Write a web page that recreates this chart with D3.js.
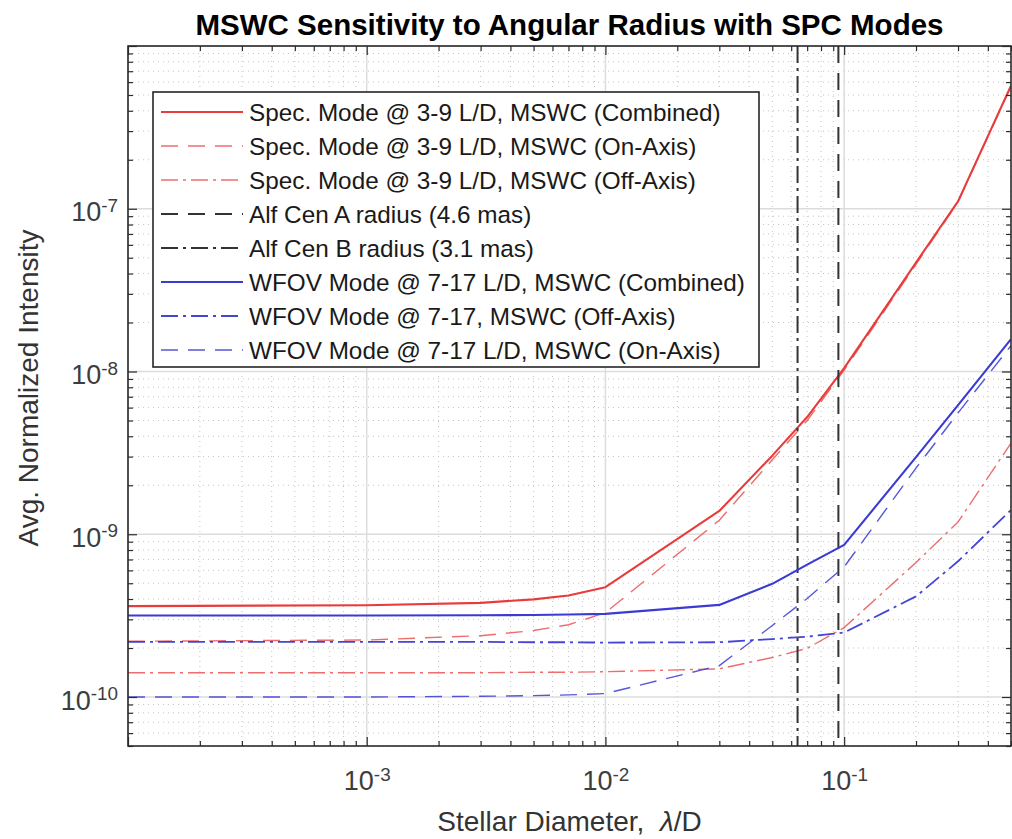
<!DOCTYPE html>
<html>
<head>
<meta charset="utf-8">
<script src="https://cdn.jsdelivr.net/npm/d3@7"></script>
<style>
  body { margin: 0; background: #fff; }
  svg { display: block; font-family: "Liberation Sans", Arial, Helvetica, sans-serif; }
  text { white-space: pre; }
</style>
</head>
<body>
<svg id="chart" width="1012" height="839"></svg>
<script>
// Stellar diameter samples (lambda/D)
const diameters = [1e-4, 1e-3, 3e-3, 5e-3, 7e-3, 1e-2, 3e-2, 5e-2, 7e-2, 1e-1, 2e-1, 3e-1, 5e-1];

// Spectroscopy mode, 3-9 L/D
const specCombined = [3.62e-10, 3.66e-10, 3.79e-10, 3.98e-10, 4.2e-10, 4.73e-10, 1.39e-9, 3.04e-9, 5.25e-9, 1.05e-8, 4.67e-8, 1.11e-7, 5.7e-7];
const specOnAxis   = [2.2e-10, 2.24e-10, 2.38e-10, 2.56e-10, 2.78e-10, 3.3e-10, 1.22e-9, 2.87e-9, 5.0e-9, 1.02e-8, 4.55e-8, 1.1e-7, 5.66e-7];
const specOffAxis  = [1.41e-10, 1.41e-10, 1.41e-10, 1.42e-10, 1.42e-10, 1.43e-10, 1.49e-10, 1.75e-10, 1.99e-10, 2.67e-10, 6.7e-10, 1.19e-9, 3.63e-9];

// Wide field-of-view mode, 7-17 L/D
const wfovCombined = [3.17e-10, 3.17e-10, 3.18e-10, 3.19e-10, 3.21e-10, 3.24e-10, 3.68e-10, 4.96e-10, 6.5e-10, 8.6e-10, 2.98e-9, 6.22e-9, 1.58e-8];
const wfovOffAxis  = [2.18e-10, 2.18e-10, 2.18e-10, 2.17e-10, 2.17e-10, 2.16e-10, 2.17e-10, 2.27e-10, 2.35e-10, 2.49e-10, 4.15e-10, 6.82e-10, 1.41e-9];
const wfovOnAxis   = [1.0e-10, 1.0e-10, 1.01e-10, 1.02e-10, 1.03e-10, 1.05e-10, 1.56e-10, 2.75e-10, 4.03e-10, 6.3e-10, 2.55e-9, 5.57e-9, 1.44e-8];

// Alpha Centauri stellar diameters in lambda/D
const alfCenA = 0.0946;
const alfCenB = 0.0638;

// Labelled ticks
const xTickLabels = [1e-3, 1e-2, 1e-1];
const yTickLabels = [1e-10, 1e-9, 1e-8, 1e-7];

const legendLabels = [
  "Spec. Mode @ 3-9 L/D, MSWC (Combined)",
  "Spec. Mode @ 3-9 L/D, MSWC (On-Axis)",
  "Spec. Mode @ 3-9 L/D, MSWC (Off-Axis)",
  "Alf Cen A radius (4.6 mas)",
  "Alf Cen B radius (3.1 mas)",
  "WFOV Mode @ 7-17 L/D, MSWC (Combined)",
  "WFOV Mode @ 7-17, MSWC (Off-Axis)",
  "WFOV Mode @ 7-17 L/D, MSWC (On-Axis)"
];

const RED = "rgb(232,60,60)";
const BLUE = "rgb(58,58,212)";
const DARK = "#333333";
const DASH = "17,10";
const DASHDOT = "17,5,3,5";

const plot = { left: 128, right: 1011, top: 46, bottom: 746 };
const svg = d3.select("#chart");

const x = d3.scaleLog().domain([1e-4, 0.5]).range([plot.left, plot.right]);
const y = d3.scaleLog().domain([5e-11, 1e-6]).range([plot.bottom, plot.top]);

const xAll = x.ticks();
const yAll = y.ticks();
const isDecade = v => Math.abs(Math.log10(v) - Math.round(Math.log10(v))) < 1e-9;
const xMajor = xAll.filter(isDecade);
const xMinor = xAll.filter(v => !isDecade(v));
const yMajor = yAll.filter(isDecade);
const yMinor = yAll.filter(v => !isDecade(v));

// Grid: dotted minor, solid major
const grid = svg.append("g");
grid.selectAll(".xminor").data(xMinor).join("line")
  .attr("x1", d => x(d)).attr("x2", d => x(d))
  .attr("y1", plot.top).attr("y2", plot.bottom)
  .attr("stroke", "#c4c4c4").attr("stroke-width", 1).attr("stroke-dasharray", "1,4");
grid.selectAll(".yminor").data(yMinor).join("line")
  .attr("y1", d => y(d)).attr("y2", d => y(d))
  .attr("x1", plot.left).attr("x2", plot.right)
  .attr("stroke", "#c4c4c4").attr("stroke-width", 1).attr("stroke-dasharray", "1,4");
grid.selectAll(".xmajor").data(xMajor).join("line")
  .attr("x1", d => x(d)).attr("x2", d => x(d))
  .attr("y1", plot.top).attr("y2", plot.bottom)
  .attr("stroke", "#dcdcdc").attr("stroke-width", 1.5);
grid.selectAll(".ymajor").data(yMajor).join("line")
  .attr("y1", d => y(d)).attr("y2", d => y(d))
  .attr("x1", plot.left).attr("x2", plot.right)
  .attr("stroke", "#dcdcdc").attr("stroke-width", 1.5);

// Clip for plotted series
svg.append("clipPath").attr("id", "plotClip")
  .append("rect").attr("x", plot.left).attr("y", plot.top)
  .attr("width", plot.right - plot.left).attr("height", plot.bottom - plot.top);

const series = [
  { values: specCombined, color: RED,  width: 2.1, dash: null,    opacity: 1 },
  { values: specOnAxis,   color: RED,  width: 1.4, dash: DASH,    opacity: 0.75 },
  { values: specOffAxis,  color: RED,  width: 1.4, dash: DASHDOT, opacity: 0.75 },
  { vline: alfCenA, color: DARK, width: 2.0, dash: DASH, opacity: 1 },
  { vline: alfCenB, color: DARK, width: 2.0, dash: DASHDOT, opacity: 1 },
  { values: wfovCombined, color: BLUE, width: 2.1, dash: null,    opacity: 1 },
  { values: wfovOffAxis,  color: BLUE, width: 1.8, dash: DASHDOT, opacity: 0.95 },
  { values: wfovOnAxis,   color: BLUE, width: 1.4, dash: DASH,    opacity: 0.85 }
];

const line = d3.line().x(d => x(d[0])).y(d => y(d[1]));
const lines = svg.append("g").attr("clip-path", "url(#plotClip)");
series.forEach(s => {
  if (s.vline !== undefined) {
    lines.append("line")
      .attr("x1", x(s.vline)).attr("x2", x(s.vline))
      .attr("y1", y(y.domain()[1])).attr("y2", y(y.domain()[0]))
      .attr("stroke", s.color).attr("stroke-width", s.width)
      .attr("stroke-dasharray", s.dash).attr("opacity", s.opacity);
  } else {
    lines.append("path")
      .datum(diameters.map((d, i) => [d, s.values[i]]))
      .attr("d", line)
      .attr("fill", "none")
      .attr("stroke", s.color).attr("stroke-width", s.width)
      .attr("stroke-dasharray", s.dash)
      .attr("stroke-opacity", s.opacity)
      .attr("stroke-linejoin", "round");
  }
});

// Axes: inward ticks on all four sides
const AX = "#2b2b2b";
function styleAxis(g) {
  g.select(".domain").remove();
  g.selectAll(".tick line").attr("stroke", AX).attr("stroke-width", 1.2);
}
function powerText(sel) {
  sel.each(function (d) {
    const t = d3.select(this);
    t.text(null);
    t.append("tspan").text("10");
    t.append("tspan").attr("dy", "-0.5em").attr("font-size", "0.7em")
      .text("-" + Math.abs(Math.round(Math.log10(d))));
  });
}

const axes = svg.append("g");
// bottom major with labels
axes.append("g").attr("transform", `translate(0,${plot.bottom})`)
  .call(d3.axisBottom(x).tickValues(xMajor).tickSizeInner(-9).tickSizeOuter(0)
    .tickFormat(d => d))
  .call(styleAxis)
  .call(g => {
    g.selectAll(".tick text").filter(d => !xTickLabels.includes(d)).remove();
    g.selectAll(".tick text")
      .attr("y", 44).attr("dy", 0)
      .attr("fill", "#3d3d3d").attr("font-size", 27)
      .attr("text-anchor", "middle")
      .call(powerText);
  });
axes.append("g").attr("transform", `translate(0,${plot.bottom})`)
  .call(d3.axisBottom(x).tickValues(xMinor).tickSize(-5).tickFormat(""))
  .call(styleAxis);
// top
axes.append("g").attr("transform", `translate(0,${plot.top})`)
  .call(d3.axisTop(x).tickValues(xMajor).tickSize(-9).tickFormat(""))
  .call(styleAxis);
axes.append("g").attr("transform", `translate(0,${plot.top})`)
  .call(d3.axisTop(x).tickValues(xMinor).tickSize(-5).tickFormat(""))
  .call(styleAxis);
// left major with labels
axes.append("g").attr("transform", `translate(${plot.left},0)`)
  .call(d3.axisLeft(y).tickValues(yMajor).tickSizeInner(-9).tickSizeOuter(0)
    .tickFormat(d => d))
  .call(styleAxis)
  .call(g => {
    g.selectAll(".tick text").filter(d => !yTickLabels.some(v => Math.abs(v - d) / v < 1e-6)).remove();
    g.selectAll(".tick text")
      .attr("x", -10).attr("dy", "0.45em")
      .attr("fill", "#3d3d3d").attr("font-size", 27)
      .attr("text-anchor", "end")
      .call(powerText);
  });
axes.append("g").attr("transform", `translate(${plot.left},0)`)
  .call(d3.axisLeft(y).tickValues(yMinor).tickSize(-5).tickFormat(""))
  .call(styleAxis);
// right
axes.append("g").attr("transform", `translate(${plot.right},0)`)
  .call(d3.axisRight(y).tickValues(yMajor).tickSize(-9).tickFormat(""))
  .call(styleAxis);
axes.append("g").attr("transform", `translate(${plot.right},0)`)
  .call(d3.axisRight(y).tickValues(yMinor).tickSize(-5).tickFormat(""))
  .call(styleAxis);

// Box
svg.append("rect")
  .attr("x", plot.left).attr("y", plot.top)
  .attr("width", plot.right - plot.left).attr("height", plot.bottom - plot.top)
  .attr("fill", "none").attr("stroke", AX).attr("stroke-width", 1.6);

// Title and axis labels
const cx = (plot.left + plot.right) / 2;
svg.append("text").attr("x", cx).attr("y", 35)
  .attr("text-anchor", "middle").attr("font-weight", "bold")
  .attr("font-size", 29.5).attr("fill", "#000")
  .text("MSWC Sensitivity to Angular Radius with SPC Modes");

const xl = svg.append("text").attr("x", cx).attr("y", 831)
  .attr("text-anchor", "middle").attr("font-size", 28).attr("fill", "#333");
xl.append("tspan").text("Stellar Diameter,  ");
xl.append("tspan").attr("font-style", "italic").text("λ");
xl.append("tspan").text("/D");

svg.append("text")
  .attr("transform", `translate(38,${(plot.top + plot.bottom) / 2 - 8}) rotate(-90)`)
  .attr("text-anchor", "middle").attr("font-size", 28).attr("fill", "#333")
  .text("Avg. Normalized Intensity");

// Legend
const leg = { x: 153, y: 92, w: 606, h: 275, row: 34, first: 20 };
const lg = svg.append("g");
lg.append("rect").attr("x", leg.x).attr("y", leg.y).attr("width", leg.w).attr("height", leg.h)
  .attr("fill", "#fff").attr("stroke", "#262626").attr("stroke-width", 1.6);
series.forEach((s, i) => {
  const yy = leg.y + leg.first + i * leg.row;
  lg.append("line")
    .attr("x1", leg.x + 8).attr("x2", leg.x + 90)
    .attr("y1", yy).attr("y2", yy)
    .attr("stroke", s.color).attr("stroke-width", s.width)
    .attr("stroke-dasharray", s.dash)
    .attr("stroke-opacity", s.opacity);
  lg.append("text")
    .attr("x", leg.x + 96).attr("y", yy).attr("dy", "0.36em")
    .attr("font-size", 24.3).attr("fill", "#1a1a1a")
    .text(legendLabels[i]);
});
</script>
</body>
</html>
